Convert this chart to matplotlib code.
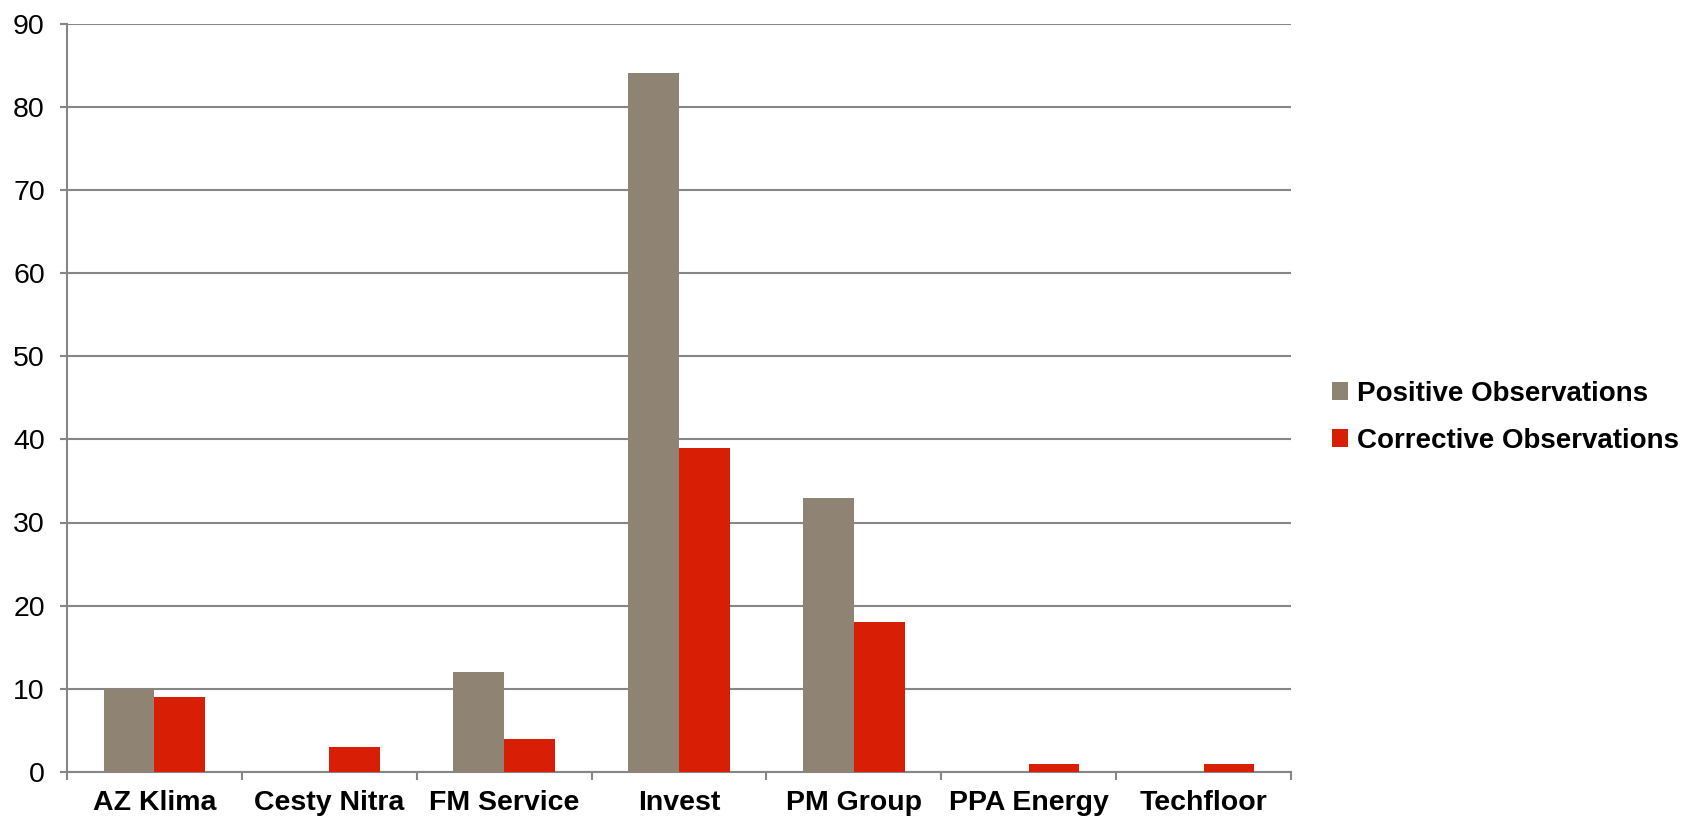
import matplotlib.pyplot as plt
import numpy as np

companies = ['AZ Klima', 'Cesty Nitra', 'FM Service', 'Invest', 'PM Group', 'PPA Energy', 'Techfloor']
positive = [10, 0, 12, 84, 33, 0, 0]
corrective = [9, 3, 4, 39, 18, 1, 1]

plt.rcParams['font.family'] = ['Liberation Sans', 'DejaVu Sans']

grey = '#8f8474'
red = '#d81e05'
line = '#868686'

fig = plt.figure(figsize=(16.86, 8.17), dpi=100)
ax = fig.add_axes([67/1686, 45/817, (1291-67)/1686, (772-23.5)/817])

x = np.arange(len(companies))
w = 0.29
ax.bar(x - w/2, positive, w, color=grey, label='Positive Observations', zorder=3)
ax.bar(x + w/2, corrective, w, color=red, label='Corrective Observations', zorder=3)

ax.set_xlim(-0.5, len(companies) - 0.5)
ax.set_ylim(0, 90)
ax.set_yticks(range(0, 91, 10))
ax.yaxis.grid(True, color=line, linewidth=1.5, zorder=0)
ax.set_axisbelow(True)

ax.set_xticks(x)
ax.set_xticklabels(companies, fontweight='bold', fontsize=20.5)
ax.set_xticks(np.arange(-0.5, len(companies)), minor=True)
ax.tick_params(axis='x', which='major', length=0, pad=13)
ax.tick_params(axis='x', which='minor', length=6, width=1.5, color=line)
ax.tick_params(axis='y', length=5, width=1.5, color=line, labelsize=20.5, pad=11)

for s in ['top', 'right']:
    ax.spines[s].set_visible(False)
for s in ['left', 'bottom']:
    ax.spines[s].set_color(line)
    ax.spines[s].set_linewidth(1.5)

leg = ax.legend(loc='center left', bbox_to_anchor=(1.022, 0.474), frameon=False,
                prop={'weight': 'bold', 'size': 20}, handlelength=0.6, handleheight=0.6,
                handletextpad=0.3, labelspacing=0.77, borderpad=0)

fig.savefig('out.png', dpi=100)
